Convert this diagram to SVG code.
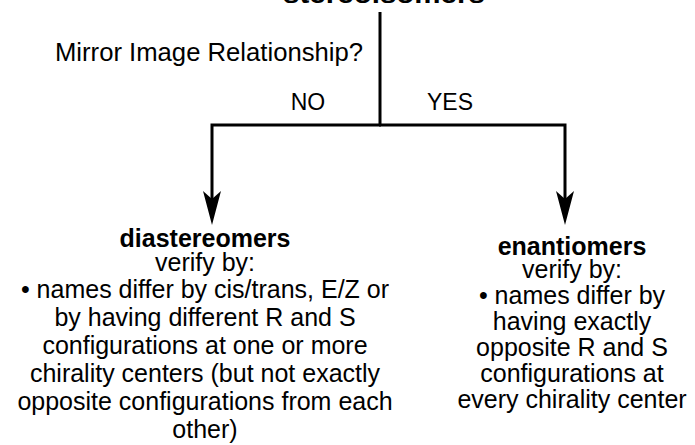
<svg xmlns="http://www.w3.org/2000/svg" width="695" height="445" viewBox="0 0 695 445">
<defs>
<marker id="ah" markerUnits="userSpaceOnUse" viewBox="-34 -11 36 22" refX="-20" refY="0" markerWidth="36" markerHeight="22" orient="auto">
<path d="M0,0 L-34,-9 L-26,0 L-34,9 Z" fill="#000"/>
</marker>
<style>
text{font-family:"Liberation Sans",Arial,Helvetica,sans-serif;fill:#000;font-size:25px;text-anchor:middle}
.b{font-weight:bold}
.lbl{font-size:23px}
.conn{fill:none;stroke:#000;stroke-width:3}
</style>
</defs>
<rect width="695" height="445" fill="#fff"/>
<g id="top">
<text class="b" x="384" y="3" font-size="28" textLength="202" lengthAdjust="spacingAndGlyphs">stereoisomers</text>
</g>
<g id="question">
<text x="209" y="61" textLength="308" lengthAdjust="spacingAndGlyphs">Mirror Image Relationship?</text>
</g>
<g id="connectors">
<path class="conn" d="M380,12 V125"/>
<path class="conn" d="M381,125 H212 V205" marker-end="url(#ah)"/>
<path class="conn" d="M379,125 H565 V205" marker-end="url(#ah)"/>
<text class="lbl" x="308" y="110">NO</text>
<text class="lbl" x="450" y="110">YES</text>
</g>
<g id="diastereomers">
<text class="b" x="205" y="247">diastereomers</text>
<text x="205" y="271">verify by:</text>
<text x="205" y="298">• names differ by cis/trans, E/Z or</text>
<text x="205" y="326">by having different R and S</text>
<text x="205" y="354">configurations at one or more</text>
<text x="205" y="382">chirality centers (but not exactly</text>
<text x="205" y="410">opposite configurations from each</text>
<text x="205" y="438">other)</text>
</g>
<g id="enantiomers">
<text class="b" x="572" y="255">enantiomers</text>
<text x="572" y="278">verify by:</text>
<text x="572" y="304">• names differ by</text>
<text x="572" y="330">having exactly</text>
<text x="572" y="356">opposite R and S</text>
<text x="572" y="382">configurations at</text>
<text x="572" y="408">every chirality center</text>
</g>
</svg>
